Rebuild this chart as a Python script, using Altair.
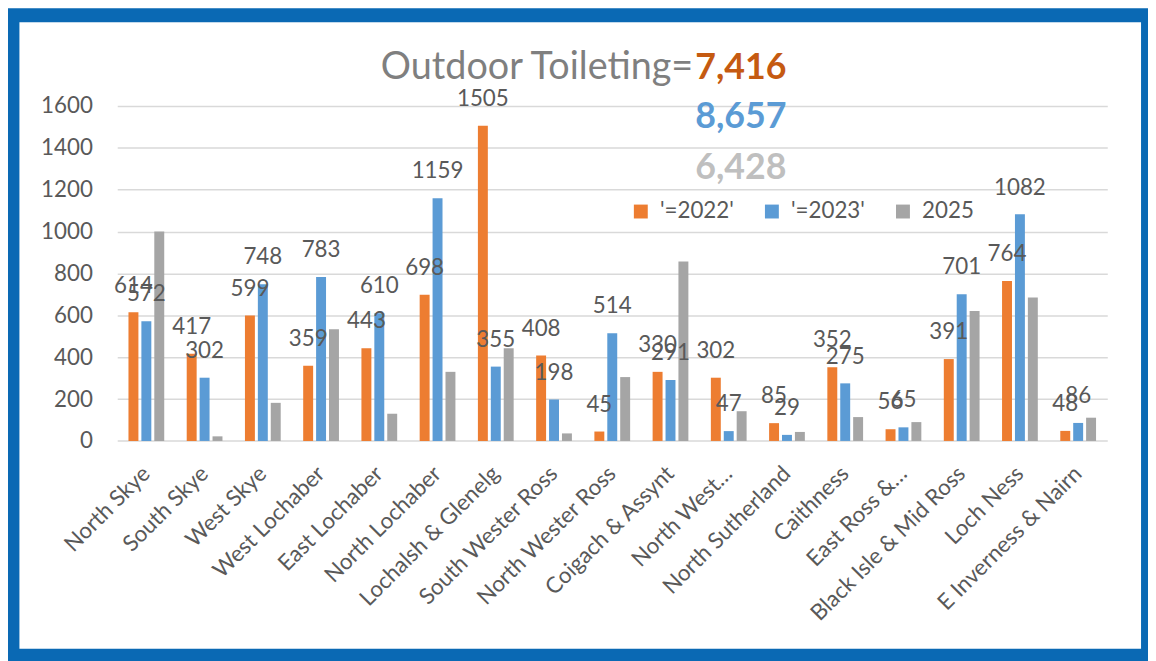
import altair as alt
import pandas as pd

regions = ["North Skye", "South Skye", "West Skye", "West Lochaber", "East Lochaber",
           "North Lochaber", "Lochalsh & Glenelg", "South Wester Ross", "North Wester Ross",
           "Coigach & Assynt", "North West…", "North Sutherland", "Caithness",
           "East Ross &…", "Black Isle & Mid Ross", "Loch Ness", "E Inverness & Nairn"]
series = ["'=2022'", "'=2023'", "2025"]
v2022 = [614, 417, 599, 359, 443, 698, 1505, 408, 45, 330, 302, 85, 352, 56, 391, 764, 48]
v2023 = [572, 302, 748, 783, 610, 1159, 355, 198, 514, 291, 47, 29, 275, 65, 701, 1082, 86]
v2025 = [1000, 22, 182, 533, 130, 330, 443, 36, 305, 857, 142, 43, 114, 90, 620, 685, 111]
labelled_series = ["'=2022'", "'=2023'"]
colors = ["#ED7D31", "#5B9BD5", "#A5A5A5"]
y_ticks = [0, 200, 400, 600, 800, 1000, 1200, 1400, 1600]
title_text = "Outdoor Toileting="
totals = ["7,416", "8,657", "6,428"]
total_colors = ["#C55A11", "#5B9BD5", "#BFBFBF"]

FONT = "Lato"
TXT = "#595959"
FS = 22.5

rows = []
for s, vals in zip(series, [v2022, v2023, v2025]):
    for r, v in zip(regions, vals):
        rows.append({"region": r, "series": s, "value": v})
df = pd.DataFrame(rows)
dummy = pd.DataFrame({"a": [0]})

W, H = 997, 337.4

x_enc = alt.X("region:N", sort=regions, title=None,
              scale=alt.Scale(paddingInner=0.386, paddingOuter=0.193),
              axis=alt.Axis(labelAngle=315, labelAlign="right", labelBaseline="middle",
                            labelFontSize=FS, labelFont=FONT, labelColor=TXT,
                            domain=False, ticks=False, labelPadding=29, labelLimit=400))
xoff = alt.XOffset("series:N", sort=series, scale=alt.Scale(paddingInner=0.23, paddingOuter=0))
y_enc = alt.Y("value:Q", title=None,
              scale=alt.Scale(domain=[0, 1600], nice=False),
              axis=alt.Axis(values=y_ticks, format="d", labelFontSize=FS, labelFont=FONT,
                            labelColor=TXT, domain=False, ticks=False, labelPadding=25,
                            gridColor="#D9D9D9", gridWidth=1.5))

bars = alt.Chart(df).mark_bar().encode(
    x=x_enc, xOffset=xoff, y=y_enc,
    color=alt.Color("series:N", sort=series,
                    scale=alt.Scale(domain=series, range=colors),
                    legend=alt.Legend(title=None, orient="none", legendX=516, legendY=95,
                                      direction="horizontal", symbolType="square",
                                      symbolSize=196, symbolStrokeWidth=0, symbolOpacity=1,
                                      labelFontSize=FS, labelFont=FONT, labelColor=TXT,
                                      labelOffset=8, columnPadding=27, padding=0))
)

labels = alt.Chart(df).transform_filter(
    alt.FieldOneOfPredicate(field="series", oneOf=labelled_series)
).mark_text(font=FONT, fontSize=FS, color=TXT, baseline="alphabetic", dy=-20).encode(
    x=alt.X("region:N", sort=regions), xOffset=alt.XOffset("series:N", sort=series),
    y=alt.Y("value:Q"), text=alt.Text("value:Q")
)

frame = alt.Chart(dummy).mark_rect(fill=None, stroke="#0A69B4", strokeWidth=14).encode(
    x=alt.value(-105.5), x2=alt.value(1038), y=alt.value(-91.3), y2=alt.value(553.7)
)

title_main = alt.Chart(dummy).mark_text(font=FONT, fontSize=38, color="#7F7F7F",
                                         align="right", baseline="alphabetic").encode(
    x=alt.value(580), y=alt.value(-27), text=alt.value(title_text))

tot_layers = []
for t, c, yy in zip(totals, total_colors, [-27, 22.7, 73.7]):
    tot_layers.append(alt.Chart(dummy).mark_text(font=FONT, fontSize=36, fontWeight="bold",
                                                  color=c, align="left",
                                                  baseline="alphabetic").encode(
        x=alt.value(582), y=alt.value(yy), text=alt.value(t)))

chart = alt.layer(frame, bars, labels, title_main, *tot_layers).properties(
    width=W, height=H,
    autosize=alt.AutoSizeParams(type="none"),
    padding={"left": 110, "top": 96.3, "right": 41, "bottom": 220},
    background="white",
).configure_view(stroke=None)

chart.save("out.html", embed_options={"renderer": "svg", "actions": False})
